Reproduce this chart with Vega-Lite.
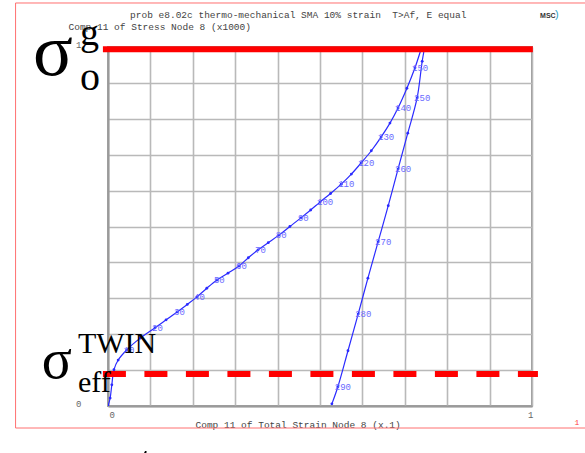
{
  "$schema": "https://vega.github.io/schema/vega-lite/v6.json",
  "width": 424,
  "height": 359,
  "autosize": {"type": "none"},
  "padding": {"left": 108, "top": 47, "right": 53, "bottom": 47},
  "background": "white",
  "config": {
    "view": {"stroke": "#9a9a9a", "strokeWidth": 2},
    "font": "Liberation Mono"
  },
  "datasets": {
    "history": [
      {"inc": 0, "x": 0.0, "y": 0.0, "lbl": ""},
      {"inc": 2, "x": 0.005, "y": 0.022, "lbl": ""},
      {"inc": 4, "x": 0.009, "y": 0.059, "lbl": ""},
      {"inc": 6, "x": 0.014, "y": 0.101, "lbl": ""},
      {"inc": 8, "x": 0.024, "y": 0.128, "lbl": ""},
      {"inc": 10, "x": 0.044, "y": 0.156, "lbl": "10"},
      {"inc": 15, "x": 0.076, "y": 0.189, "lbl": ""},
      {"inc": 20, "x": 0.111, "y": 0.218, "lbl": "20"},
      {"inc": 25, "x": 0.137, "y": 0.240, "lbl": ""},
      {"inc": 30, "x": 0.163, "y": 0.262, "lbl": "30"},
      {"inc": 35, "x": 0.187, "y": 0.283, "lbl": ""},
      {"inc": 40, "x": 0.210, "y": 0.304, "lbl": "40"},
      {"inc": 45, "x": 0.233, "y": 0.328, "lbl": ""},
      {"inc": 50, "x": 0.257, "y": 0.351, "lbl": "50"},
      {"inc": 55, "x": 0.283, "y": 0.370, "lbl": ""},
      {"inc": 60, "x": 0.309, "y": 0.390, "lbl": "60"},
      {"inc": 65, "x": 0.331, "y": 0.413, "lbl": ""},
      {"inc": 70, "x": 0.354, "y": 0.435, "lbl": "70"},
      {"inc": 75, "x": 0.378, "y": 0.455, "lbl": ""},
      {"inc": 80, "x": 0.403, "y": 0.476, "lbl": "80"},
      {"inc": 85, "x": 0.429, "y": 0.500, "lbl": ""},
      {"inc": 90, "x": 0.455, "y": 0.524, "lbl": "90"},
      {"inc": 95, "x": 0.478, "y": 0.546, "lbl": ""},
      {"inc": 100, "x": 0.500, "y": 0.568, "lbl": "100"},
      {"inc": 105, "x": 0.525, "y": 0.592, "lbl": ""},
      {"inc": 110, "x": 0.550, "y": 0.618, "lbl": "110"},
      {"inc": 115, "x": 0.574, "y": 0.646, "lbl": ""},
      {"inc": 120, "x": 0.597, "y": 0.677, "lbl": "120"},
      {"inc": 125, "x": 0.621, "y": 0.711, "lbl": ""},
      {"inc": 130, "x": 0.644, "y": 0.749, "lbl": "130"},
      {"inc": 135, "x": 0.665, "y": 0.788, "lbl": ""},
      {"inc": 140, "x": 0.684, "y": 0.830, "lbl": "140"},
      {"inc": 145, "x": 0.705, "y": 0.885, "lbl": ""},
      {"inc": 150, "x": 0.724, "y": 0.942, "lbl": "150"},
      {"inc": 200, "x": 0.752, "y": 1.04, "lbl": ""},
      {"inc": 245, "x": 0.741, "y": 0.960, "lbl": ""},
      {"inc": 250, "x": 0.729, "y": 0.858, "lbl": "250"},
      {"inc": 255, "x": 0.707, "y": 0.760, "lbl": ""},
      {"inc": 260, "x": 0.684, "y": 0.660, "lbl": "260"},
      {"inc": 265, "x": 0.661, "y": 0.558, "lbl": ""},
      {"inc": 270, "x": 0.637, "y": 0.457, "lbl": "270"},
      {"inc": 275, "x": 0.613, "y": 0.356, "lbl": ""},
      {"inc": 280, "x": 0.590, "y": 0.256, "lbl": "280"},
      {"inc": 285, "x": 0.566, "y": 0.154, "lbl": ""},
      {"inc": 290, "x": 0.542, "y": 0.053, "lbl": "290"},
      {"inc": 295, "x": 0.528, "y": 0.006, "lbl": ""}
    ]
  },
  "layer": [
    {
      "data": {"name": "history"},
      "mark": {"type": "line", "color": "#2a2aff", "strokeWidth": 1.2, "interpolate": "catmull-rom", "clip": true},
      "encoding": {
        "x": {
          "field": "x", "type": "quantitative",
          "scale": {"domain": [0, 1], "nice": false, "zero": false},
          "axis": {
            "values": [0, 0.1, 0.2, 0.3, 0.4, 0.5, 0.6, 0.7, 0.8, 0.9, 1],
            "tickCount": 40,
            "labelExpr": "datum.value == 0 ? '0' : datum.value == 1 ? '1' : ''",
            "grid": true, "gridColor": "#b9b9b9", "gridWidth": 1.6,
            "domainColor": "#9a9a9a", "domainWidth": 2,
            "ticks": false,
            "labelFont": "Liberation Mono", "labelFontSize": 9, "labelColor": "#666",
            "labelPadding": 4, "labelOffset": 1,
            "title": "Comp 11 of Total Strain Node 8 (x.1)",
            "titleFont": "Liberation Mono", "titleFontSize": 9.5, "titleFontWeight": "normal",
            "titleColor": "#444",
            "titleAnchor": "start", "titleAlign": "left", "titleBaseline": "middle",
            "titleX": 87, "titleY": 18
          }
        },
        "y": {
          "field": "y", "type": "quantitative",
          "scale": {"domain": [0, 1], "nice": false, "zero": false},
          "axis": {
            "values": [0, 0.1, 0.2, 0.3, 0.4, 0.5, 0.6, 0.7, 0.8, 0.9, 1],
            "tickCount": 40,
            "labelExpr": "datum.value == 0 ? '0' : datum.value == 1 ? '1' : ''",
            "grid": true, "gridColor": "#b9b9b9", "gridWidth": 1.6,
            "domainColor": "#9a9a9a", "domainWidth": 2,
            "ticks": false,
            "labelFont": "Liberation Mono", "labelFontSize": 9, "labelColor": "#666",
            "labelPadding": 27, "labelOffset": -3,
            "title": "Comp 11 of Stress Node 8 (x1000)",
            "titleFont": "Liberation Mono", "titleFontSize": 9.5, "titleFontWeight": "normal",
            "titleColor": "#444",
            "titleAngle": 0, "titleAlign": "left", "titleBaseline": "middle",
            "titleX": -40, "titleY": -21
          }
        },
        "order": {"field": "inc", "type": "quantitative"}
      }
    },
    {
      "data": {"name": "history"},
      "mark": {"type": "point", "filled": true, "color": "#2a2aff", "size": 8, "opacity": 1, "clip": true},
      "encoding": {
        "x": {"field": "x", "type": "quantitative"},
        "y": {"field": "y", "type": "quantitative"}
      }
    },
    {
      "data": {"name": "history"},
      "transform": [{"filter": "datum.lbl != ''"}],
      "mark": {"type": "text", "font": "Liberation Mono", "fontSize": 9, "color": "#6a6aff", "align": "left", "baseline": "middle", "dx": -3},
      "encoding": {
        "x": {"field": "x", "type": "quantitative"},
        "y": {"field": "y", "type": "quantitative"},
        "text": {"field": "lbl"}
      }
    },
    {
      "data": {"values": [{}]},
      "mark": {"type": "text", "text": "prob e8.02c thermo-mechanical SMA 10% strain \u00a0T>Af, E equal", "font": "Liberation Mono", "fontSize": 9.5, "color": "#444", "align": "left", "baseline": "middle"},
      "encoding": {"x": {"datum": 0.052}, "y": {"datum": 1.089}}
    },
    {
      "data": {"values": [{}]},
      "mark": {"type": "rule", "color": "#ff0000", "strokeWidth": 6},
      "encoding": {
        "x": {"datum": -0.012}, "x2": {"datum": 1.002},
        "y": {"datum": 0.994}
      }
    },
    {
      "data": {"values": [{}]},
      "mark": {"type": "rule", "color": "#ff0000", "strokeWidth": 6, "strokeDash": [23, 18.5]},
      "encoding": {
        "x": {"datum": -0.012}, "x2": {"datum": 1.014},
        "y": {"datum": 0.089}
      }
    },
    {
      "data": {"values": [{}]},
      "mark": {"type": "rect", "fill": null, "fillOpacity": 0, "stroke": "#ff7070", "strokeWidth": 1},
      "encoding": {
        "x": {"datum": -0.218}, "x2": {"datum": 1.2},
        "y": {"datum": 1.1226}, "y2": {"datum": -0.0613}
      }
    },
    {
      "data": {"values": [{}]},
      "mark": {"type": "text", "text": "σ", "font": "Liberation Serif", "fontSize": 74, "color": "#000", "align": "left", "baseline": "alphabetic"},
      "encoding": {"x": {"datum": -0.177}, "y": {"datum": 0.922}}
    },
    {
      "data": {"values": [{}]},
      "mark": {"type": "text", "text": "g", "font": "Liberation Serif", "fontSize": 38, "color": "#000", "align": "left", "baseline": "alphabetic"},
      "encoding": {"x": {"datum": -0.066}, "y": {"datum": 1.006}}
    },
    {
      "data": {"values": [{}]},
      "mark": {"type": "text", "text": "o", "font": "Liberation Serif", "fontSize": 40, "color": "#000", "align": "left", "baseline": "alphabetic"},
      "encoding": {"x": {"datum": -0.066}, "y": {"datum": 0.88}}
    },
    {
      "data": {"values": [{}]},
      "mark": {"type": "text", "text": "σ", "font": "Liberation Serif", "fontSize": 56, "color": "#000", "align": "left", "baseline": "alphabetic"},
      "encoding": {"x": {"datum": -0.156}, "y": {"datum": 0.078}}
    },
    {
      "data": {"values": [{}]},
      "mark": {"type": "text", "text": "TWIN", "font": "Liberation Serif", "fontSize": 30, "color": "#000", "align": "left", "baseline": "alphabetic"},
      "encoding": {"x": {"datum": -0.071}, "y": {"datum": 0.148}}
    },
    {
      "data": {"values": [{}]},
      "mark": {"type": "text", "text": "eff", "font": "Liberation Serif", "fontSize": 30, "color": "#000", "align": "left", "baseline": "alphabetic"},
      "encoding": {"x": {"datum": -0.071}, "y": {"datum": 0.039}}
    },
    {
      "data": {"values": [{}]},
      "mark": {"type": "text", "text": "σ", "font": "Liberation Serif", "fontSize": 56, "color": "#000", "align": "left", "baseline": "alphabetic"},
      "encoding": {"x": {"datum": 0.022}, "y": {"datum": -0.207}}
    },
    {
      "data": {"values": [{}]},
      "mark": {"type": "text", "text": "MSC", "font": "Liberation Sans", "fontSize": 7, "fontWeight": "bold", "color": "#333", "align": "left", "baseline": "middle"},
      "encoding": {"x": {"datum": 1.019}, "y": {"datum": 1.087}}
    },
    {
      "data": {"values": [{}]},
      "mark": {"type": "text", "text": ")", "font": "Liberation Sans", "fontSize": 11, "color": "#2aa3c8", "align": "left", "baseline": "middle"},
      "encoding": {"x": {"datum": 1.054}, "y": {"datum": 1.09}}
    },
    {
      "data": {"values": [{}]},
      "mark": {"type": "text", "text": "1", "font": "Liberation Mono", "fontSize": 8, "color": "#ff4040", "align": "center", "baseline": "middle"},
      "encoding": {"x": {"datum": 1.106}, "y": {"datum": -0.047}}
    }
  ]
}
